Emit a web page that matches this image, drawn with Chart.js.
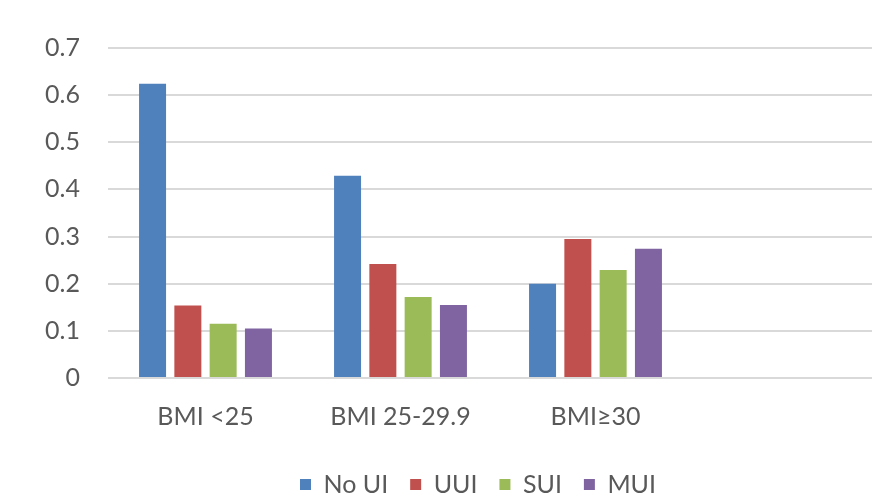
<!DOCTYPE html>
<html>
<head>
<meta charset="utf-8">
<script src="https://cdn.jsdelivr.net/npm/chart.js@4/dist/chart.umd.min.js"></script>
<style>
  html, body { margin: 0; padding: 0; background: #ffffff; overflow: hidden; }
  #wrap { width: 872px; height: 499px; overflow: hidden; position: relative; }
  canvas { display: block; }
</style>
</head>
<body>
<div id="wrap"><canvas id="chart" width="952" height="507"></canvas></div>
<script>
// BMI groups (the fourth slot is left empty)
const categories = ['BMI <25', 'BMI 25-29.9', 'BMI\u226530', ''];

// Proportions for each urinary incontinence type
const noUI = [0.624, 0.429, 0.200, null];
const uui  = [0.154, 0.242, 0.295, null];
const sui  = [0.115, 0.172, 0.229, null];
const mui  = [0.105, 0.155, 0.274, null];

const seriesNames = ['No UI', 'UUI', 'SUI', 'MUI'];
const seriesColors = ['#4f81bd', '#c0504d', '#9bbb59', '#8064a2'];
const seriesValues = [noUI, uui, sui, mui];

const yTicks = [0, 0.1, 0.2, 0.3, 0.4, 0.5, 0.6, 0.7];
const yTickLabels = ['0', '0.1', '0.2', '0.3', '0.4', '0.5', '0.6', '0.7'];

const textColor = '#595959';
const fontFamily = 'Lato, "Open Sans", sans-serif';

const datasets = seriesNames.map((name, i) => ({
  label: name,
  data: seriesValues[i],
  backgroundColor: seriesColors[i],
  borderWidth: 0,
  categoryPercentage: 0.724,
  barPercentage: 0.765
}));

// Centre the legend under the full chart width (including the y-axis gutter)
const legendShift = {
  id: 'legendShift',
  afterLayout(chart) {
    const lg = chart.legend;
    if (!lg) return;
    const target = (chart.chartArea.left + chart.chartArea.right) / 2 - 20;
    const current = (lg.left + lg.right) / 2;
    const dx = target - current;
    lg.left += dx;
    lg.right += dx;
  }
};

new Chart(document.getElementById('chart'), {
  type: 'bar',
  data: { labels: categories, datasets },
  plugins: [legendShift],
  options: {
    responsive: false,
    animation: false,
    devicePixelRatio: 1,
    layout: { padding: { top: 48, right: 64, left: 0, bottom: 0 } },
    plugins: {
      tooltip: { enabled: false },
      legend: {
        position: 'bottom',
        labels: {
          color: textColor,
          font: { family: fontFamily, size: 25 },
          boxWidth: 11,
          boxHeight: 11,
          padding: 22
        }
      }
    },
    scales: {
      x: {
        grid: { display: false, drawTicks: false },
        border: { display: false },
        ticks: {
          color: textColor,
          font: { family: fontFamily, size: 25 },
          padding: 24,
          maxRotation: 0,
          autoSkip: false
        },
        afterFit: (scale) => { scale.height = 72; }
      },
      y: {
        min: 0,
        max: 0.7,
        afterBuildTicks: (scale) => { scale.ticks = yTicks.map(v => ({ value: v })); },
        grid: { color: '#d9d9d9', lineWidth: 2, drawTicks: false },
        border: { display: false },
        ticks: {
          color: textColor,
          font: { family: fontFamily, size: 25 },
          padding: 28,
          callback: (v, i) => yTickLabels[i]
        },
        afterFit: (scale) => { scale.width = 108; }
      }
    }
  }
});
</script>
</body>
</html>
